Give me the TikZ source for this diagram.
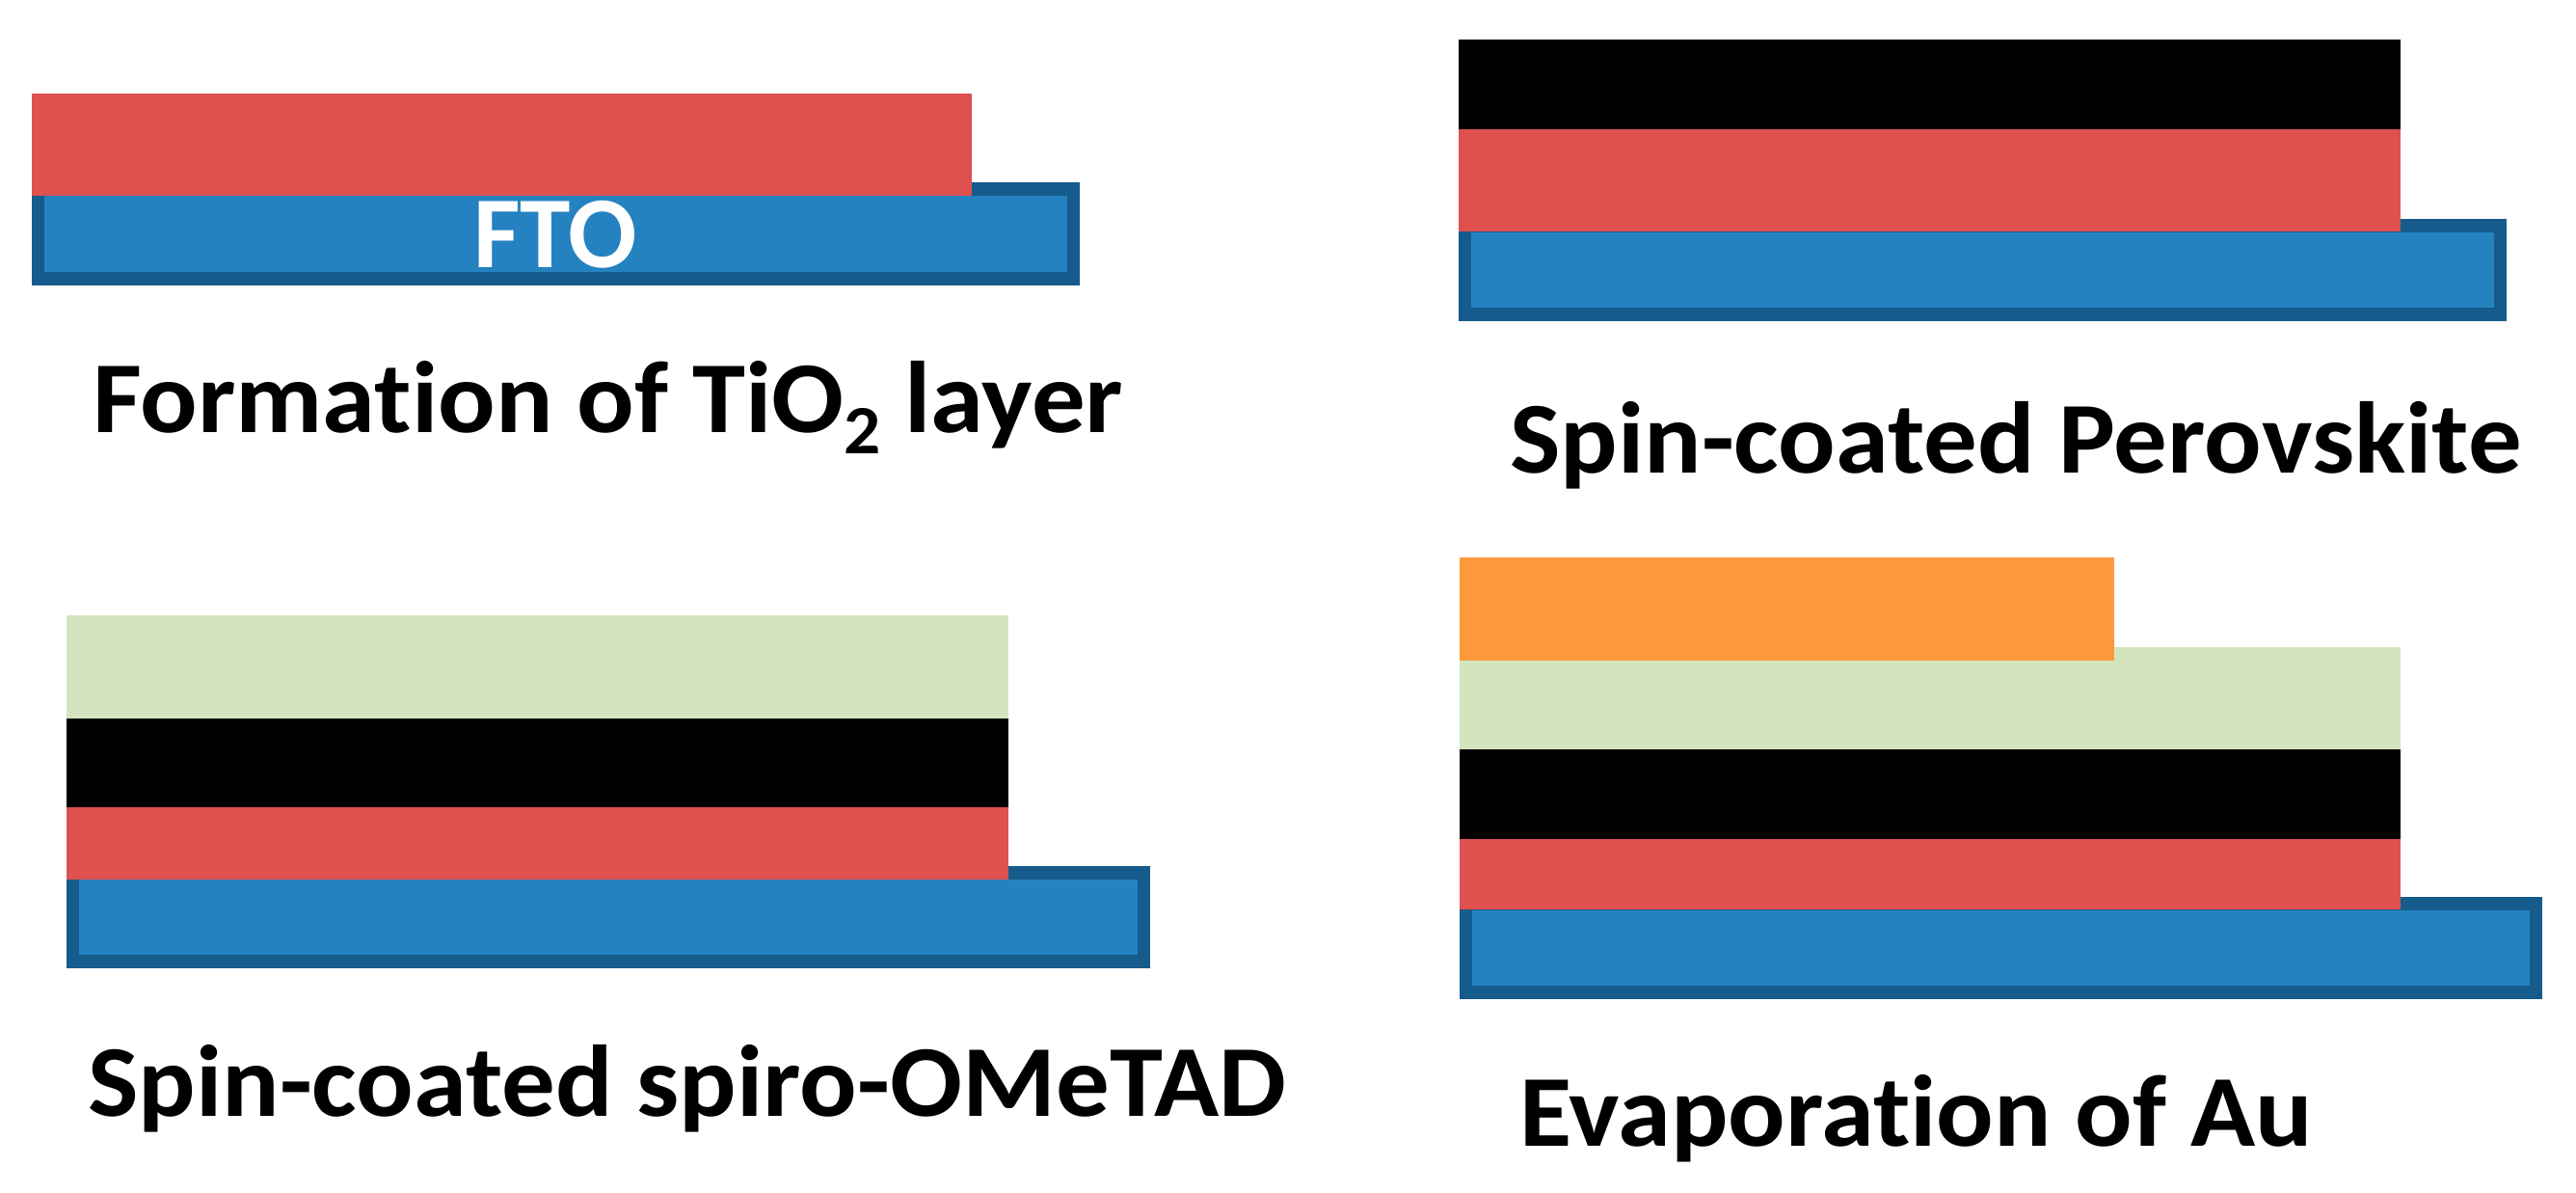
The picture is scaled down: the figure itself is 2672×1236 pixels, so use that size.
\documentclass[tikz,border=0pt]{standalone}
\usepackage{fontspec}
\setmainfont{Carlito}[Ligatures={NoCommon}]
\definecolor{tired}{HTML}{DE514F}
\definecolor{ftoblue}{HTML}{2582C0}
\definecolor{ftoedge}{HTML}{155B8C}
\definecolor{spirogreen}{HTML}{D4E5BE}
\definecolor{auorange}{HTML}{FF983C}
\tikzset{
  lbl/.style={anchor=base west, inner sep=0pt, font=\fontsize{106}{120}\selectfont\bfseries, text=black},
  ftolbl/.style={anchor=base, inner sep=0pt, font=\fontsize{106}{120}\selectfont\bfseries, text=white},
}
\newcommand{\ftolayer}[4]{% x1 y1 x2 y2
  \fill[ftoedge] (#1,#2) rectangle (#3,#4);
  \fill[ftoblue] (#1+13,#2+14) rectangle (#3-13,#4-14);
}
\newcommand{\wide}[1]{\scalebox{1.05}[1]{#1}}
\newcommand{\subtwo}{\raisebox{-22bp}{\fontsize{72}{80}\selectfont 2}}
\begin{document}
\begin{tikzpicture}[x=1bp,y=-1bp]
\useasboundingbox (0,0) rectangle (2672,1236);
% Panel 1
\ftolayer{33}{189}{1120}{296}
\fill[tired] (33,97) rectangle (1008,203);
\node[ftolbl] (fto) at (576,277) {FTO};
\node[lbl] (l1) at (96,448) {\wide{Formation of TiO\subtwo\ layer}};
% Panel 2
\ftolayer{1513}{227}{2600}{333}
\fill[tired] (1513,134) rectangle (2490,240);
\fill[black] (1513,41) rectangle (2490,134);
\node[lbl] (l2) at (1566,490) {\wide{Spin-coated Perovskite}};
% Panel 3
\ftolayer{69}{898}{1193}{1004}
\fill[tired] (69,837) rectangle (1046,912);
\fill[black] (69,745) rectangle (1046,837);
\fill[spirogreen] (69,638) rectangle (1046,745);
\node[lbl] (l3) at (91,1157) {\wide{Spin-coated spiro-OMeTAD}};
% Panel 4
\ftolayer{1514}{930}{2637}{1036}
\fill[tired] (1514,870) rectangle (2490,943);
\fill[black] (1514,777) rectangle (2490,870);
\fill[spirogreen] (1514,671) rectangle (2490,777);
\fill[auorange] (1514,578) rectangle (2193,685);
\node[lbl] (l4) at (1576,1188) {\wide{Evaporation of Au}};
\end{tikzpicture}
\end{document}
